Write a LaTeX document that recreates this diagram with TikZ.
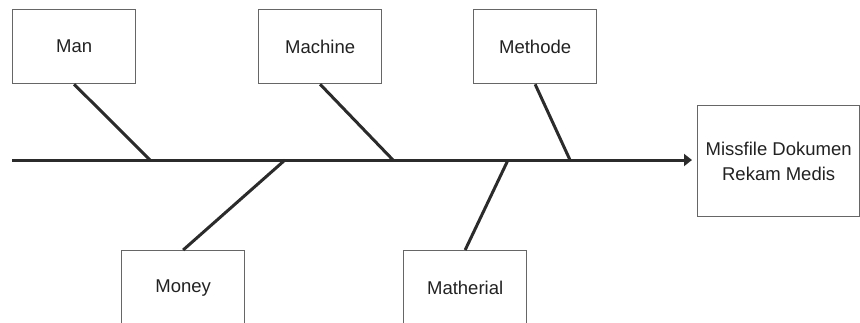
\documentclass[tikz,border=0pt]{standalone}
\usepackage{fontspec}
\setmainfont{Liberation Sans}
\usetikzlibrary{arrows.meta}
\definecolor{boxgray}{HTML}{666666}
\definecolor{linegray}{HTML}{2B2B2B}
\definecolor{textgray}{HTML}{222222}
\begin{document}
\begin{tikzpicture}[x=1pt,y=-1pt,
  box/.style={draw=boxgray, line width=1.3pt, fill=white, minimum width=123pt, minimum height=74pt,
    inner sep=0pt, font=\fontsize{18.5}{25}\selectfont, text=textgray, anchor=north west, align=center},
  bone/.style={draw=linegray, line width=3pt}]
\useasboundingbox (0,0) rectangle (860,322);
% boxes
\node[box] (man) at (12,9) {Man};
\node[box] (machine) at (258,9) {Machine};
\node[box] (methode) at (473,9) {Methode};
\node[box] (money) at (121,250) {Money};
\node[box] (matherial) at (403,250) {Matherial};
\node[box, minimum width=162pt, minimum height=111pt] (target) at (697,105) {Missfile Dokumen\\Rekam Medis};
% spine
\coordinate (tail) at (12,160);
\coordinate (head) at (692,160);
\draw[bone, -{Triangle[length=8pt,width=12pt]}] (tail) -- (head);
% spine junctions
\coordinate (jman) at (150,160);
\coordinate (jmachine) at (393,160);
\coordinate (jmethode) at (570,160);
\coordinate (jmoney) at (285,160);
\coordinate (jmatherial) at (508,160);
% bones
\draw[bone] (man.south) -- (jman);
\draw[bone] (machine.south) -- (jmachine);
\draw[bone] (methode.south) -- (jmethode);
\draw[bone] (money.north) -- (jmoney);
\draw[bone] (matherial.north) -- (jmatherial);
\end{tikzpicture}
\end{document}
